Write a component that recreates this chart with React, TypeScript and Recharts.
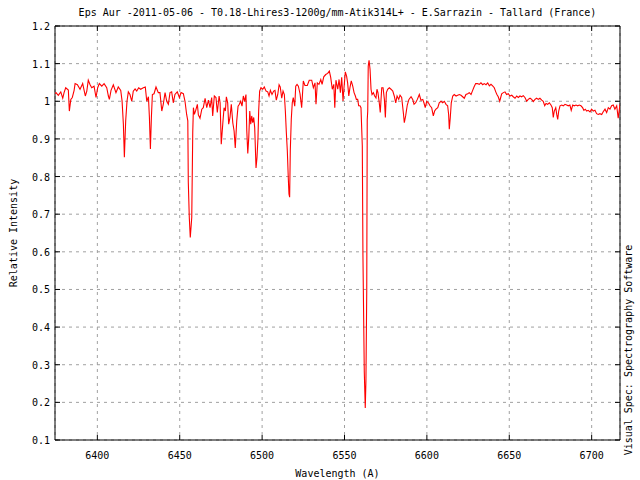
import React from 'react';
import { LineChart, Line, XAxis, YAxis, CartesianGrid, ReferenceArea } from 'recharts';

const WAVELENGTH: number[] = [
  6374.3, 6374.9, 6376.3, 6377.8, 6379.0, 6379.8, 6380.8, 6382.4, 6383.0, 6383.9,
  6384.8, 6385.9, 6386.5, 6387.9, 6389.5, 6391.1, 6392.7, 6393.6, 6394.5, 6395.6,
  6396.6, 6398.0, 6399.2, 6400.2, 6401.2, 6402.7, 6404.1, 6405.7, 6406.7, 6407.3,
  6408.3, 6409.7, 6411.3, 6412.7, 6414.2, 6415.0, 6415.8, 6416.4, 6417.2, 6418.0,
  6418.8, 6419.8, 6420.9, 6421.8, 6422.9, 6423.9, 6425.1, 6426.3, 6427.9, 6429.1,
  6430.0, 6431.0, 6431.6, 6432.2, 6432.8, 6433.4, 6434.4, 6435.6, 6437.0, 6438.0,
  6439.1, 6440.0, 6441.1, 6442.1, 6443.1, 6444.1, 6445.1, 6446.1, 6447.1, 6448.5,
  6449.8, 6450.8, 6452.2, 6453.2, 6454.2, 6454.9, 6455.2, 6455.8, 6456.4, 6457.3,
  6457.9, 6458.3, 6458.9, 6459.7, 6460.7, 6461.3, 6462.3, 6463.4, 6464.3, 6465.4,
  6466.4, 6467.4, 6468.4, 6469.4, 6470.0, 6471.0, 6472.0, 6472.8, 6473.9, 6474.5,
  6475.2, 6476.1, 6476.9, 6477.7, 6478.3, 6479.1, 6479.7, 6480.5, 6481.3, 6482.2,
  6483.0, 6483.7, 6484.6, 6485.4, 6486.2, 6487.0, 6487.8, 6488.6, 6489.4, 6490.2,
  6490.7, 6491.3, 6491.9, 6492.5, 6493.1, 6493.7, 6494.3, 6494.9, 6495.5, 6496.3,
  6496.9, 6497.5, 6497.9, 6498.5, 6499.3, 6500.4, 6501.3, 6502.4, 6503.4, 6504.2,
  6505.0, 6506.0, 6507.0, 6507.8, 6508.6, 6509.5, 6510.3, 6511.0, 6511.9, 6512.7,
  6513.5, 6514.1, 6514.7, 6515.3, 6515.9, 6516.3, 6516.7, 6517.1, 6517.7, 6518.3,
  6518.9, 6519.8, 6520.4, 6521.2, 6522.0, 6523.0, 6524.0, 6525.0, 6526.0, 6527.4,
  6528.6, 6530.1, 6531.1, 6532.1, 6532.7, 6533.5, 6534.5, 6535.6, 6536.4, 6537.4,
  6538.6, 6539.8, 6540.8, 6541.6, 6542.6, 6543.5, 6544.1, 6544.8, 6545.9, 6546.7,
  6547.5, 6548.3, 6549.1, 6549.7, 6550.5, 6551.3, 6551.9, 6552.6, 6553.3, 6554.1,
  6555.0, 6555.8, 6556.6, 6557.2, 6558.0, 6558.6, 6559.4, 6560.0, 6560.8, 6561.2,
  6562.0, 6562.6, 6563.0, 6563.5, 6563.8, 6564.1, 6564.4, 6564.9, 6565.5, 6566.1,
  6566.7, 6567.5, 6568.3, 6569.1, 6569.7, 6570.3, 6571.1, 6571.7, 6572.6, 6573.4,
  6574.2, 6574.8, 6575.4, 6576.2, 6577.2, 6578.2, 6579.3, 6580.2, 6581.1, 6581.9,
  6582.9, 6583.7, 6584.7, 6585.7, 6586.3, 6587.1, 6588.1, 6589.1, 6590.4, 6591.4,
  6592.2, 6593.2, 6594.2, 6595.4, 6596.4, 6597.5, 6598.2, 6599.0, 6599.9, 6600.9,
  6601.9, 6602.9, 6603.9, 6604.7, 6605.5, 6606.6, 6607.5, 6608.6, 6609.6, 6610.6,
  6611.6, 6612.6, 6613.2, 6613.6, 6614.2, 6614.8, 6615.7, 6616.6, 6617.7, 6618.7,
  6619.7, 6620.7, 6621.7, 6622.7, 6623.7, 6624.8, 6625.7, 6626.8, 6627.6, 6628.6,
  6629.6, 6630.6, 6631.8, 6632.8, 6633.9, 6634.8, 6635.9, 6636.9, 6637.9, 6638.9,
  6639.9, 6640.9, 6641.8, 6642.5, 6643.3, 6644.2, 6644.8, 6645.4, 6646.4, 6647.4,
  6648.4, 6649.4, 6650.4, 6651.5, 6652.4, 6653.5, 6654.5, 6655.5, 6656.5, 6657.5,
  6658.5, 6659.5, 6660.6, 6661.5, 6662.6, 6663.6, 6664.6, 6665.6, 6666.6, 6667.6,
  6668.6, 6669.7, 6670.6, 6671.5, 6672.3, 6673.3, 6674.3, 6675.3, 6676.1, 6676.7,
  6677.3, 6678.2, 6678.8, 6679.4, 6680.0, 6680.8, 6681.8, 6682.8, 6683.8, 6684.8,
  6685.8, 6686.8, 6687.6, 6688.5, 6689.4, 6690.5, 6691.5, 6692.5, 6693.5, 6694.5,
  6695.3, 6696.1, 6697.0, 6697.9, 6699.0, 6700.0, 6701.0, 6702.0, 6703.0, 6704.0,
  6705.0, 6706.1, 6707.0, 6708.1, 6709.1, 6710.1, 6711.1, 6712.1, 6713.1, 6714.1,
  6715.2, 6716.1, 6717.2,
];

const INTENSITY: number[] = [
  1.020, 1.023, 1.016, 1.025, 1.008, 1.023, 1.036, 1.030, 0.974, 1.005,
  1.010, 1.029, 1.047, 1.044, 1.032, 1.047, 1.014, 1.027, 1.056, 1.044,
  1.036, 1.040, 1.010, 1.036, 1.047, 1.040, 1.047, 1.036, 1.014, 1.005,
  1.029, 1.044, 1.023, 1.038, 1.029, 1.001, 0.939, 0.851, 0.948, 1.000,
  1.025, 1.018, 1.000, 1.027, 1.033, 1.027, 1.036, 1.032, 1.036, 1.038,
  1.000, 1.012, 0.957, 0.873, 0.957, 1.018, 1.020, 1.038, 1.023, 1.023,
  0.974, 0.992, 1.023, 1.000, 0.992, 1.023, 1.025, 0.996, 1.018, 1.025,
  1.010, 1.023, 1.020, 1.000, 0.965, 0.948, 0.785, 0.692, 0.638, 0.692,
  0.917, 0.983, 0.965, 0.976, 0.992, 0.964, 0.955, 0.979, 0.983, 1.008,
  0.983, 1.003, 0.983, 1.010, 0.961, 1.014, 1.010, 0.970, 1.014, 0.996,
  0.886, 0.939, 0.983, 0.974, 1.012, 0.996, 0.939, 0.957, 0.992, 0.943,
  0.921, 0.876, 0.948, 0.987, 0.992, 1.000, 0.987, 1.014, 1.000, 1.018,
  0.921, 0.861, 0.904, 0.974, 0.939, 0.961, 0.943, 0.957, 0.930, 0.823,
  0.851, 0.904, 0.974, 1.027, 1.036, 1.032, 1.038, 1.027, 1.025, 1.014,
  1.029, 1.018, 1.027, 1.029, 1.003, 1.018, 1.044, 1.038, 1.008, 1.027,
  1.018, 0.974, 0.917, 0.868, 0.794, 0.754, 0.745, 0.868, 0.952, 0.996,
  1.010, 0.987, 1.040, 1.045, 1.040, 1.020, 0.983, 1.054, 1.042, 1.042,
  1.056, 1.056, 1.036, 1.049, 0.992, 1.049, 1.045, 1.058, 1.045, 1.065,
  1.071, 1.074, 1.080, 1.064, 1.032, 1.045, 0.983, 1.056, 1.032, 1.058,
  1.023, 1.064, 1.001, 1.036, 1.078, 1.066, 1.049, 1.014, 1.036, 1.054,
  1.040, 1.023, 1.014, 1.005, 1.005, 0.988, 0.988, 0.983, 0.882, 0.586,
  0.282, 0.185, 0.256, 0.498, 0.950, 0.974, 1.093, 1.109, 1.085, 1.032,
  1.018, 1.023, 1.014, 1.009, 1.032, 1.023, 0.996, 0.970, 1.036, 1.036,
  1.005, 0.957, 1.023, 1.032, 1.036, 1.032, 1.027, 1.014, 0.996, 1.014,
  1.005, 1.016, 1.010, 0.970, 0.943, 0.961, 0.990, 1.005, 1.012, 1.005,
  0.992, 0.996, 1.005, 1.018, 1.003, 1.005, 0.996, 0.983, 1.000, 0.996,
  0.988, 0.983, 0.961, 0.974, 0.979, 0.983, 0.996, 1.000, 0.996, 1.000,
  0.992, 0.988, 0.965, 0.926, 0.957, 0.996, 1.014, 1.018, 1.014, 1.016,
  1.018, 1.016, 1.012, 1.008, 1.018, 1.020, 1.023, 1.018, 1.027, 1.038,
  1.047, 1.047, 1.045, 1.049, 1.044, 1.047, 1.044, 1.049, 1.041, 1.045,
  1.041, 1.036, 1.025, 1.018, 1.012, 1.000, 1.010, 1.020, 1.023, 1.025,
  1.018, 1.020, 1.014, 1.016, 1.012, 1.008, 1.014, 1.010, 1.014, 1.012,
  1.015, 1.010, 1.000, 1.005, 1.008, 1.005, 0.999, 1.005, 1.008, 1.005,
  1.008, 1.003, 1.000, 0.988, 0.994, 0.992, 0.996, 0.990, 0.983, 0.957,
  0.974, 0.983, 0.965, 0.952, 0.974, 0.988, 0.990, 0.988, 0.992, 0.990,
  0.988, 0.990, 0.976, 0.990, 0.988, 0.990, 0.988, 0.990, 0.988, 0.983,
  0.976, 0.979, 0.974, 0.976, 0.972, 0.979, 0.974, 0.976, 0.967, 0.965,
  0.967, 0.965, 0.972, 0.979, 0.970, 0.983, 0.979, 0.988, 0.990, 0.979,
  0.988, 0.955, 0.992,
];

const X_TICKS: number[] = [6400, 6450, 6500, 6550, 6600, 6650, 6700];
const Y_TICKS: number[] = [0.1, 0.2, 0.3, 0.4, 0.5, 0.6, 0.7, 0.8, 0.9, 1.0, 1.1, 1.2];
const X_DOMAIN: [number, number] = [6374.3, 6717.2];
const Y_DOMAIN: [number, number] = [0.1, 1.2];

const TITLE = 'Eps Aur -2011-05-06 - T0.18-Lhires3-1200g/mm-Atik314L+ - E.Sarrazin - Tallard (France)';
const X_LABEL = 'Wavelength (A)';
const Y_LABEL = 'Relative Intensity';
const SIDE_NOTE = 'Visual Spec: Spectrography Software';

const data = WAVELENGTH.map((w, i) => ({ w, v: INTENSITY[i] }));

const W = 640;
const H = 480;
const LEFT = 55;
const RIGHT = 620;
const TOP = 26;
const BOTTOM = 440;
const TICK = 5;
const FONT = "'DejaVu Sans Mono', monospace";

const fmtY = (v: number) => String(Number(v.toFixed(1)));

const YTick = (props: any) => {
  const { y, payload } = props;
  return (
    <g>
      <line x1={LEFT} x2={LEFT + TICK} y1={y} y2={y} stroke="#000" />
      <line x1={RIGHT - TICK} x2={RIGHT} y1={y} y2={y} stroke="#000" />
      <text x={LEFT - 5} y={y + 4} textAnchor="end" fontFamily={FONT} fontSize={10} fill="#000">
        {fmtY(payload.value)}
      </text>
    </g>
  );
};

const XTick = (props: any) => {
  const { x, payload } = props;
  return (
    <g>
      <line x1={x} x2={x} y1={BOTTOM} y2={BOTTOM - TICK} stroke="#000" />
      <line x1={x} x2={x} y1={TOP} y2={TOP + TICK} stroke="#000" />
      <text x={x} y={BOTTOM + 19} textAnchor="middle" fontFamily={FONT} fontSize={10} fill="#000">
        {String(payload.value)}
      </text>
    </g>
  );
};

export default function App() {
  return (
    <div style={{ position: 'absolute', left: 0, top: 0, width: W, height: H, background: '#fff' }}>
      <LineChart
        width={W}
        height={H}
        data={data}
        margin={{ top: TOP, right: W - RIGHT, bottom: 0, left: 0 }}
      >
        <CartesianGrid stroke="#a0a0a0" strokeDasharray="3 4" />
        <XAxis
          dataKey="w"
          type="number"
          domain={X_DOMAIN}
          ticks={X_TICKS}
          allowDataOverflow
          height={H - BOTTOM}
          axisLine={false}
          tickLine={false}
          tickSize={0}
          tick={<XTick />}
          interval={0}
        />
        <YAxis
          type="number"
          domain={Y_DOMAIN}
          ticks={Y_TICKS}
          allowDataOverflow
          width={LEFT}
          axisLine={false}
          tickLine={false}
          tickSize={0}
          tick={<YTick />}
          interval={0}
        />
        <ReferenceArea
          x1={X_DOMAIN[0]}
          x2={X_DOMAIN[1]}
          y1={Y_DOMAIN[0]}
          y2={Y_DOMAIN[1]}
          fill="none"
          fillOpacity={0}
          stroke="#000"
          strokeWidth={1}
        />
        <Line
          type="linear"
          dataKey="v"
          stroke="#ff0000"
          strokeWidth={1.1}
          dot={false}
          isAnimationActive={false}
        />
      </LineChart>
      <svg
        width={W}
        height={H}
        style={{ position: 'absolute', left: 0, top: 0, pointerEvents: 'none' }}
      >
        <text x={(LEFT + RIGHT) / 2} y={16} textAnchor="middle" fontFamily={FONT} fontSize={10} fill="#000">
          {TITLE}
        </text>
        <text x={(LEFT + RIGHT) / 2} y={477} textAnchor="middle" fontFamily={FONT} fontSize={10} fill="#000">
          {X_LABEL}
        </text>
        <text
          transform={`translate(17, ${(TOP + BOTTOM) / 2}) rotate(-90)`}
          textAnchor="middle"
          fontFamily={FONT}
          fontSize={10}
          fill="#000"
        >
          {Y_LABEL}
        </text>
        <text
          transform={`translate(632, 350) rotate(-90)`}
          textAnchor="middle"
          fontFamily={FONT}
          fontSize={10}
          fill="#000"
        >
          {SIDE_NOTE}
        </text>
      </svg>
    </div>
  );
}
